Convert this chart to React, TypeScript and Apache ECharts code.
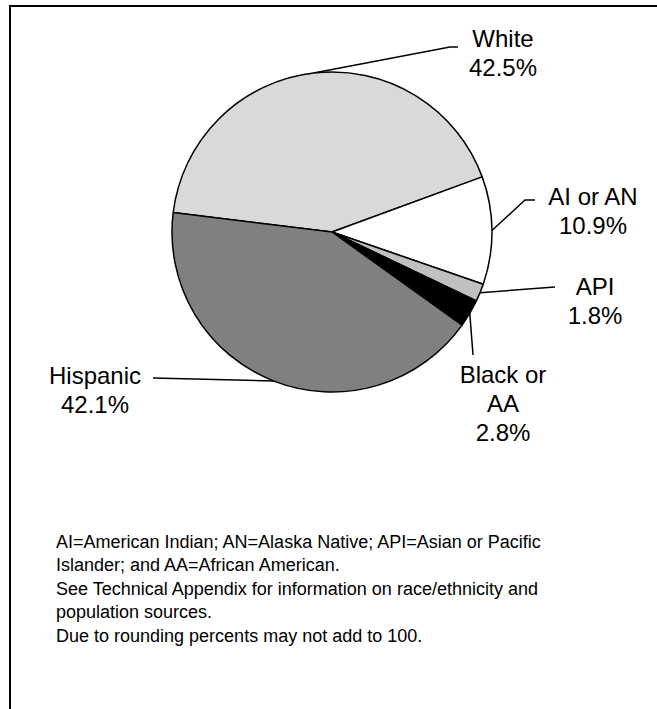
import React, { useEffect, useRef } from "react";
import * as echarts from "echarts";

const categories = ["White", "AI or AN", "API", "Black or\nAA", "Hispanic"];
const values = [42.5, 10.9, 1.8, 2.8, 42.1];
const colors = ["#d9d9d9", "#ffffff", "#c0c0c0", "#000000", "#808080"];
const footnoteLines = [
  "AI=American Indian; AN=Alaska Native; API=Asian or Pacific",
  "Islander; and AA=African American.",
  "See Technical Appendix for information on race/ethnicity and",
  "population sources.",
  "Due to rounding percents may not add to 100.",
];

// label placement: [centerX, topY, leader bend points...]
const labelPlacement: { x: number; y: number; bends: number[][] }[] = [
  { x: 503, y: 24, bends: [[450, 47], [458, 47]] },
  { x: 593, y: 182, bends: [[525, 200], [535, 200]] },
  { x: 595, y: 272, bends: [[555, 287]] },
  { x: 503, y: 360, bends: [[473, 355]] },
  { x: 95, y: 361, bends: [[153, 378]] },
];

const FONT = "'Liberation Sans', Arial, Helvetica, sans-serif";

export default function App() {
  const ref = useRef<HTMLDivElement>(null);
  useEffect(() => {
    if (!ref.current) return;
    const chart = echarts.init(ref.current, null, { renderer: "svg" });
    chart.setOption({
      animation: false,
      backgroundColor: "#ffffff",
      graphic: [
        {
          type: "rect",
          shape: { x: 10, y: 6, width: 720, height: 760 },
          style: { fill: "none", stroke: "#000", lineWidth: 2 },
          z: 0,
        },
        {
          type: "text",
          x: 56,
          y: 530,
          style: {
            text: footnoteLines.join("\n"),
            font: `18px ${FONT}`,
            fontSize: 18,
            fontFamily: FONT,
            lineHeight: 23.5,
            fill: "#000",
            textAlign: "left",
            textVerticalAlign: "top",
          },
        },
      ],
      series: [
        {
          type: "pie",
          center: [332, 232],
          radius: [0, 160],
          startAngle: 173,
          clockwise: true,
          avoidLabelOverlap: false,
          data: categories.map((name, i) => ({
            name,
            value: values[i],
            itemStyle: { color: colors[i] },
          })),
          itemStyle: { borderColor: "#000", borderWidth: 1.5 },
          emphasis: { disabled: true },
          label: {
            show: true,
            position: "outside",
            formatter: (p: any) => `${p.name}\n${p.value}%`,
            fontSize: 24,
            fontFamily: FONT,
            lineHeight: 29,
            color: "#000",
            align: "center",
          },
          labelLine: {
            show: true,
            length: 10,
            length2: 10,
            smooth: false,
            lineStyle: { color: "#000", width: 1.5 },
          },
          labelLayout: (params: any) => {
            const pl = labelPlacement[params.dataIndex];
            const start = params.labelLinePoints ? params.labelLinePoints[0] : pl.bends[0];
            return {
              x: pl.x,
              y: pl.y,
              align: "center",
              verticalAlign: "top",
              labelLinePoints: [start, ...pl.bends],
            };
          },
        },
      ],
    });
    return () => chart.dispose();
  }, []);
  return (
    <div
      ref={ref}
      style={{ position: "fixed", left: 0, top: 0, width: 657, height: 709 }}
    />
  );
}
